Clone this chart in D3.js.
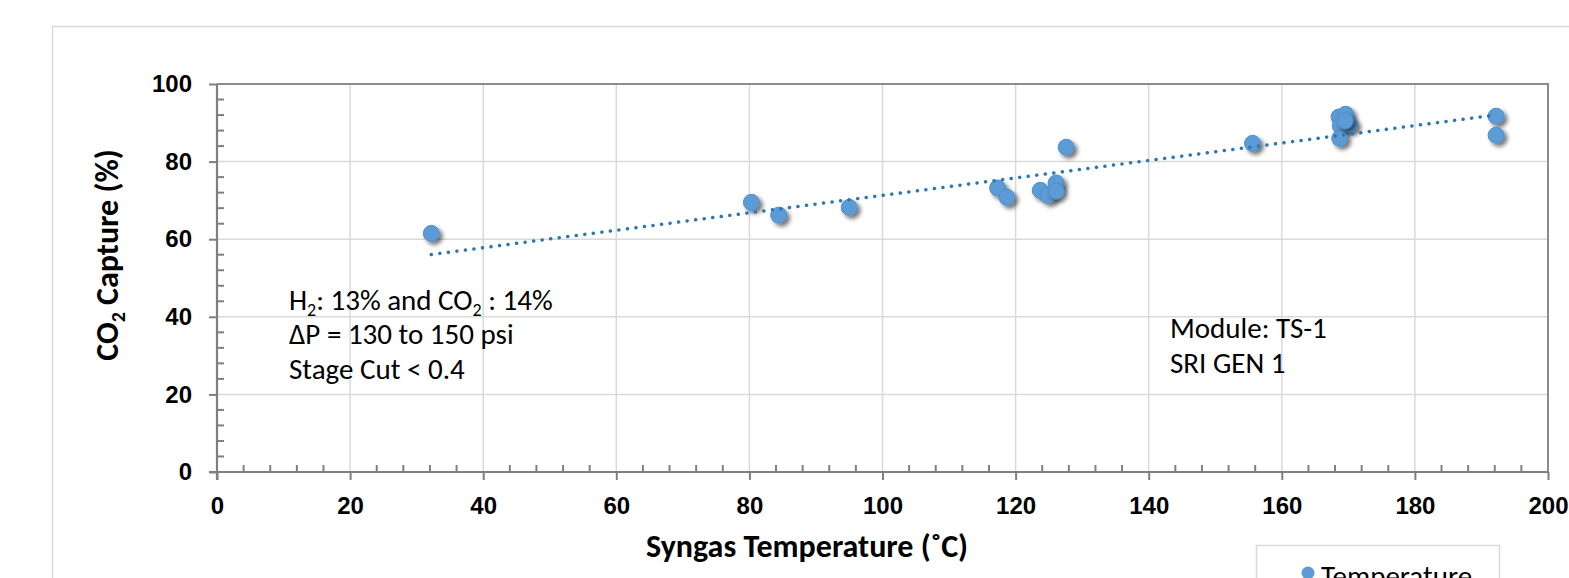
<!DOCTYPE html>
<html>
<head>
  <meta charset="utf-8">
  <title>CO2 Capture vs Syngas Temperature</title>
  <script src="https://d3js.org/d3.v7.min.js"></script>
  <style>
    body { margin: 0; background: #fff; }
    svg { display: block; font-family: Carlito, Lato, "Liberation Sans", sans-serif; }
    .tick-label { font-size: 24px; font-weight: bold; fill: #000; }
    .note { font-size: 29px; fill: #000; }
  </style>
</head>
<body>
  <div id="chart"></div>
  <script>
    // data
    const temperature = [32.2, 80.3, 84.4, 95.0, 117.3, 118.7, 123.7, 124.9, 126.1, 126.1,
                         127.6, 155.6, 168.6, 169.6, 168.8, 170.2, 168.7, 169.5, 192.2, 192.2];
    const capture = [61.5, 69.5, 66.2, 68.2, 73.2, 70.8, 72.6, 71.3, 74.5, 72.4,
                     83.7, 84.7, 91.5, 92.2, 89.2, 89.5, 86.0, 90.5, 91.7, 86.8];
    const xTicks = [0, 20, 40, 60, 80, 100, 120, 140, 160, 180, 200];
    const yTicks = [0, 20, 40, 60, 80, 100];
    const notesLeft = ["ΔP = 130 to 150 psi", "Stage Cut < 0.4"];
    const notesRight = ["Module: TS-1", "SRI GEN 1"];

    const width = 1569, height = 578;
    const plot = { left: 217, right: 1548, top: 84, bottom: 472 };

    const svg = d3.select("#chart").append("svg")
      .attr("width", width)
      .attr("height", height);

    // drop shadow for markers
    const defs = svg.append("defs");
    defs.append("filter").attr("id", "shadow")
      .attr("x", "-50%").attr("y", "-50%").attr("width", "220%").attr("height", "220%")
      .append("feDropShadow")
      .attr("dx", 3).attr("dy", 3).attr("stdDeviation", 2.2)
      .attr("flood-color", "#000").attr("flood-opacity", 0.55);

    // chart frame (runs off the page on right and bottom)
    svg.append("rect")
      .attr("x", 52.5).attr("y", 26.5)
      .attr("width", 1600).attr("height", 700)
      .attr("fill", "none").attr("stroke", "#d9d9d9").attr("stroke-width", 1.5);

    const x = d3.scaleLinear().domain([0, 200]).range([plot.left, plot.right]);
    const y = d3.scaleLinear().domain([0, 100]).range([plot.bottom, plot.top]);

    // gridlines
    svg.append("g").selectAll("line").data(xTicks.slice(1, -1)).join("line")
      .attr("x1", d => x(d)).attr("x2", d => x(d))
      .attr("y1", plot.top).attr("y2", plot.bottom)
      .attr("stroke", "#d9d9d9").attr("stroke-width", 1.5);
    svg.append("g").selectAll("line").data(yTicks.slice(1, -1)).join("line")
      .attr("x1", plot.left).attr("x2", plot.right)
      .attr("y1", d => y(d)).attr("y2", d => y(d))
      .attr("stroke", "#d9d9d9").attr("stroke-width", 1.5);

    // top and right border of plot area
    svg.append("path")
      .attr("d", `M${plot.left},${plot.top}H${plot.right}V${plot.bottom}`)
      .attr("fill", "none").attr("stroke", "#8c8c8c").attr("stroke-width", 2);

    // axes: major ticks outside, minor ticks inside
    const axisColor = "#7f7f7f";
    const minorX = d3.range(0, 201, 4).filter(d => d % 20 !== 0);
    const minorY = d3.range(0, 101, 4).filter(d => d % 20 !== 0);

    const xAxis = svg.append("g")
      .attr("transform", `translate(0,${plot.bottom})`)
      .call(d3.axisBottom(x).tickValues(xTicks).tickSize(8).tickFormat(d3.format("d")));
    xAxis.select(".domain").attr("stroke", axisColor).attr("stroke-width", 2.2)
      .attr("d", `M${plot.left - 8},0H${plot.right}`);
    xAxis.selectAll(".tick line").attr("stroke", axisColor).attr("stroke-width", 2);
    xAxis.selectAll(".tick text").attr("class", "tick-label").attr("font-family", null)
      .attr("font-size", null).attr("y", 25).attr("dy", "0.72em");
    svg.append("g").selectAll("line").data(minorX).join("line")
      .attr("x1", d => x(d)).attr("x2", d => x(d))
      .attr("y1", plot.bottom).attr("y2", plot.bottom - 7)
      .attr("stroke", axisColor).attr("stroke-width", 2);

    const yAxis = svg.append("g")
      .attr("transform", `translate(${plot.left},0)`)
      .call(d3.axisLeft(y).tickValues(yTicks).tickSize(8).tickFormat(d3.format("d")));
    yAxis.select(".domain").attr("stroke", axisColor).attr("stroke-width", 2.2)
      .attr("d", `M0,${plot.top}V${plot.bottom + 8}`);
    yAxis.selectAll(".tick line").attr("stroke", axisColor).attr("stroke-width", 2);
    yAxis.selectAll(".tick text").attr("class", "tick-label").attr("font-family", null)
      .attr("font-size", null).attr("x", -25);
    svg.append("g").selectAll("line").data(minorY).join("line")
      .attr("x1", plot.left).attr("x2", plot.left + 7)
      .attr("y1", d => y(d)).attr("y2", d => y(d))
      .attr("stroke", axisColor).attr("stroke-width", 2);

    // linear trendline (least squares over the points)
    const n = temperature.length;
    const mx = d3.mean(temperature), my = d3.mean(capture);
    let sxy = 0, sxx = 0;
    for (let i = 0; i < n; i++) {
      sxy += (temperature[i] - mx) * (capture[i] - my);
      sxx += (temperature[i] - mx) ** 2;
    }
    const slope = sxy / sxx, icpt = my - slope * mx;
    const [tx0, tx1] = d3.extent(temperature);

    // points
    const pts = temperature.map((t, i) => ({ t, c: capture[i] }));
    svg.append("g").selectAll("circle").data(pts).join("circle")
      .attr("cx", d => x(d.t)).attr("cy", d => y(d.c)).attr("r", 8)
      .attr("fill", "#5b9bd5").attr("stroke", "#4f8fcb").attr("stroke-width", 1)
      .attr("filter", "url(#shadow)");

    svg.append("line")
      .attr("x1", x(tx0)).attr("y1", y(slope * tx0 + icpt))
      .attr("x2", x(tx1)).attr("y2", y(slope * tx1 + icpt))
      .attr("stroke", "#2e75b6").attr("stroke-width", 3.5)
      .attr("stroke-linecap", "round").attr("stroke-dasharray", "0.1 8.5");

    // axis titles
    svg.append("text")
      .attr("x", 807).attr("y", 557).attr("text-anchor", "middle")
      .attr("font-size", 32).attr("font-weight", "bold")
      .text("Syngas Temperature (˚C)");

    const yt = svg.append("text")
      .attr("transform", "translate(118,255) rotate(-90)")
      .attr("text-anchor", "middle")
      .attr("font-size", 32).attr("font-weight", "bold");
    yt.append("tspan").text("CO");
    yt.append("tspan").attr("font-size", 20).attr("dy", 7).text("2");
    yt.append("tspan").attr("dy", -7).text(" Capture (%)");

    // annotations
    const n1 = svg.append("text").attr("class", "note").attr("x", 289).attr("y", 310);
    n1.append("tspan").text("H");
    n1.append("tspan").attr("font-size", 18).attr("dy", 6).text("2");
    n1.append("tspan").attr("dy", -6).text(": 13% and CO");
    n1.append("tspan").attr("font-size", 18).attr("dy", 6).text("2");
    n1.append("tspan").attr("dy", -6).text(" : 14%");
    svg.append("g").selectAll("text").data(notesLeft).join("text")
      .attr("class", "note").attr("x", 289).attr("y", (d, i) => 344 + i * 35)
      .text(d => d);
    svg.append("g").selectAll("text").data(notesRight).join("text")
      .attr("class", "note").attr("x", 1170).attr("y", (d, i) => 338 + i * 35)
      .text(d => d);

    // legend (cut off at bottom)
    svg.append("rect")
      .attr("x", 1256.5).attr("y", 545.5).attr("width", 243).attr("height", 60)
      .attr("fill", "#fff").attr("stroke", "#d9d9d9").attr("stroke-width", 1.5);
    svg.append("circle").attr("cx", 1308).attr("cy", 573).attr("r", 6.5).attr("fill", "#5b9bd5");
    svg.append("text").attr("class", "note").attr("font-size", 28)
      .attr("x", 1321).attr("y", 586).text("Temperature");
  </script>
</body>
</html>
